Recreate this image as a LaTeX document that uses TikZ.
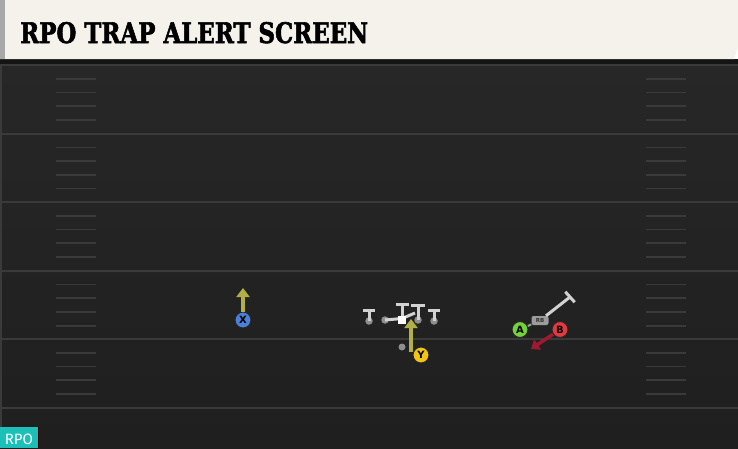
\documentclass[tikz,border=0pt]{standalone}
\usepackage{fontspec}
\setmainfont{DejaVu Sans}
\newfontfamily\titlefont{DejaVu Serif}[UprightFont=*, BoldFont=* Bold, BoldFeatures={FakeBold=2.2}]
\newfontfamily\badgefont{Fira Sans}
\usetikzlibrary{arrows.meta,calc}
\definecolor{fieldtop}{HTML}{272727}
\definecolor{fieldbot}{HTML}{1F1F1F}
\definecolor{yardline}{HTML}{3A3A3A}
\definecolor{hashc}{HTML}{3A3A3A}
\definecolor{cream}{HTML}{F5F2EB}
\definecolor{stripgrey}{HTML}{A8A8A8}
\definecolor{olive}{HTML}{B2AF45}
\definecolor{xblue}{HTML}{4A80D8}
\definecolor{yyellow}{HTML}{F2C417}
\definecolor{agreen}{HTML}{74D13A}
\definecolor{bred}{HTML}{E23A40}
\definecolor{darkred}{HTML}{9E1A30}
\definecolor{blockgrey}{HTML}{D2D2D2}
\definecolor{olgrey}{HTML}{8E8E8E}
\definecolor{rbgrey}{HTML}{9C9C9C}
\definecolor{teal}{HTML}{1DC0B8}
\tikzset{
  hashmark/.style={draw=hashc, line width=1.6pt},
  yard/.style={draw=yardline, line width=2pt},
  player/.style={circle, draw=black!85, line width=1pt, minimum size=16pt, inner sep=0pt, font=\bfseries\fontsize{10}{10}\selectfont, text=black},
  route/.style={draw=olive, line width=4pt, -{Triangle[width=13pt,length=9pt]}},
  redroute/.style={draw=darkred, line width=3.5pt, -{Triangle[width=12pt,length=8pt]}},
  blockline/.style={draw=blockgrey, line width=3pt},
  olman/.style={circle, fill=olgrey, inner sep=0pt, minimum size=7.5pt},
  rbtag/.style={rounded corners=2pt, fill=rbgrey, inner sep=0pt, minimum width=17pt, minimum height=9pt, font=\bfseries\fontsize{5.5}{5.5}\selectfont, text=black!80}
}
\begin{document}
\begin{tikzpicture}[x=1pt,y=-1pt]
\useasboundingbox (0,0) rectangle (738,448);
% field
\shade[top color=fieldtop, bottom color=fieldbot] (0,59) rectangle (738,448);
\fill[yardline] (0,64) rectangle (2,448);
% yard lines
\foreach \yy in {65,133.6,202,270.8,339,408} {
  \draw[yard] (2,\yy) -- (738,\yy);
}
% hash marks
\foreach \yy in {65,133.6,202,270.8,339} {
  \foreach \k in {13.7,27.4,41.2,55} {
    \draw[hashmark] (56,\yy+\k) -- (96,\yy+\k);
    \draw[hashmark] (646,\yy+\k) -- (686,\yy+\k);
  }
}
% banner
\fill[black!92] (0,59) rectangle (738,64);
\fill[cream] (0,0) -- (738,0) -- (738,47) -- (734,59) -- (0,59) -- cycle;
\fill[stripgrey] (0,0) rectangle (5,59);
\node[anchor=base west, inner sep=0pt] (title) at (20,43)
  {\resizebox{348pt}{21pt}{\titlefont\bfseries RPO TRAP ALERT SCREEN}};
% RPO badge
\fill[black!80!red] (0,426.5) rectangle (39,448);
\node[fill=teal, anchor=south west, minimum width=38pt, minimum height=20.5pt, inner sep=0pt] (badge) at (0,448) {};
\node[anchor=base, inner sep=0pt, text=white, font=\badgefont\fontsize{15}{15}\selectfont] (badgetext) at (19,444.5) {RPO};
% X receiver
\coordinate (Xend) at (243,288);
\node[player, fill=xblue] (X) at (243,320) {X};
\draw[route] (X) -- (Xend);
% offensive line
\node[olman] (LT) at (369,321) {};
\coordinate (LTb) at (369,310);
\draw[blockline] (LT.center) -- (LTb);
\draw[blockline] ($(LTb)+(-6,0)$) -- ($(LTb)+(6,0)$);
\node[olman] (LG) at (385,320) {};
\node[olman] (RG) at (418,320) {};
\coordinate (RGb) at (418,305.5);
\draw[blockline] (RG.center) -- (RGb);
\draw[blockline] ($(RGb)+(-7,0)$) -- ($(RGb)+(7,0)$);
\node[olman] (RT) at (434,321) {};
\coordinate (RTb) at (434,310);
\draw[blockline] (RT.center) -- (RTb);
\draw[blockline] ($(RTb)+(-6,0)$) -- ($(RTb)+(6,0)$);
\coordinate (Cb) at (402,304.5);
\coordinate (LGend) at (415,313);
\draw[blockline] (LG.center) -- (402,318.5) -- (LGend);
\node[fill=white, minimum size=8pt, inner sep=0pt] (C) at (402,320) {};
\draw[blockline] (C) -- (Cb);
\draw[blockline] ($(Cb)+(-6.5,0)$) -- ($(Cb)+(6.5,0)$);
% QB
\node[circle, fill=olgrey, inner sep=0pt, minimum size=7pt] (QB) at (402,347) {};
% Y receiver
\coordinate (Ystart) at (411,352);
\coordinate (Yend) at (411,319);
\draw[route] (Ystart) -- (Yend);
\node[player, fill=yyellow] (Y) at (421,355) {Y};
% running back
\node[rbtag] (RB) at (540,320.5) {RB};
\node[player, fill=agreen] (A) at (520,329.5) {A};
\node[player, fill=bred] (B) at (560,329.5) {B};
\draw[draw=rbgrey, line width=2pt] (A) -- (RB);
\coordinate (RBend) at (570,297);
\draw[blockline] (RB) -- (RBend);
\draw[blockline] ($(RBend)+(-4.7,-5.2)$) -- ($(RBend)+(4.7,5.2)$);
\coordinate (Bend) at (531,349);
\draw[redroute] (B) -- (Bend);
\end{tikzpicture}
\end{document}
